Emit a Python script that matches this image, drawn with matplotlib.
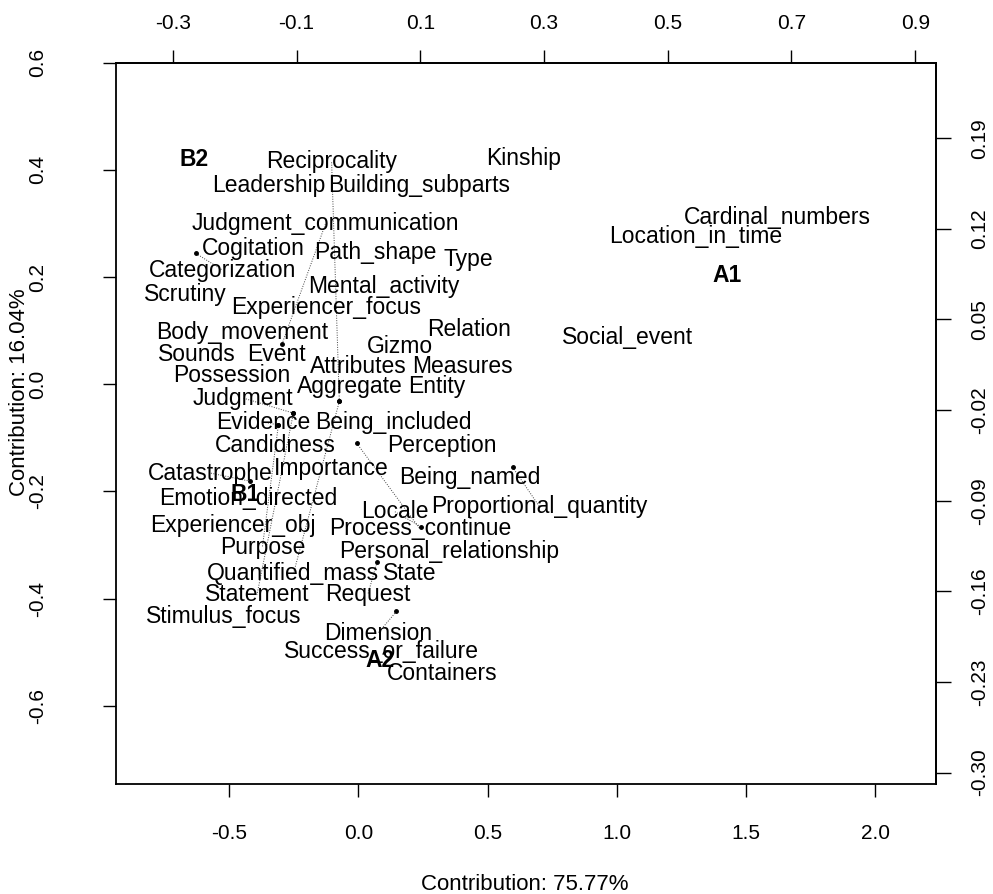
import numpy as np
import matplotlib
matplotlib.use("Agg")
import matplotlib.pyplot as plt

plt.rcParams['font.family'] = ['Liberation Sans', 'DejaVu Sans']
plt.rcParams['axes.unicode_minus'] = False

# label positions (dimension 1, dimension 2)
labels = ['Reciprocality', 'Leadership', 'Building_subparts', 'Kinship',
          'Judgment_communication', 'Cogitation', 'Path_shape', 'Type',
          'Categorization', 'Mental_activity', 'Scrutiny', 'Experiencer_focus',
          'Body_movement', 'Relation', 'Gizmo', 'Sounds', 'Event', 'Attributes',
          'Measures', 'Possession', 'Aggregate', 'Entity', 'Judgment', 'Evidence',
          'Being_included', 'Candidness', 'Perception', 'Catastrophe', 'Importance',
          'Being_named', 'Emotion_directed', 'Locale', 'Proportional_quantity',
          'Experiencer_obj', 'Process_continue', 'Purpose', 'Personal_relationship',
          'Quantified_mass', 'State', 'Statement', 'Request', 'Stimulus_focus',
          'Dimension', 'Success_or_failure', 'Containers', 'Cardinal_numbers',
          'Location_in_time', 'Social_event']
label_x = [-0.104, -0.349, 0.233, 0.641,
           -0.127, -0.407, 0.064, 0.427,
           -0.527, 0.098, -0.669, -0.126,
           -0.452, 0.428, 0.162, -0.624, -0.319, 0.000,
           0.402, -0.492, -0.032, 0.305, -0.446, -0.367,
           0.136, -0.322, 0.323, -0.572, -0.106,
           0.432, -0.427, 0.141, 0.700,
           -0.485, 0.238, -0.372, 0.350,
           -0.252, 0.199, -0.393, 0.036, -0.523,
           0.075, 0.090, 0.324, 1.623,
           1.305, 1.042]
label_y = [0.415, 0.370, 0.370, 0.421,
           0.300, 0.253, 0.245, 0.233,
           0.213, 0.183, 0.167, 0.143,
           0.097, 0.102, 0.071, 0.055, 0.055, 0.033,
           0.033, 0.016, -0.005, -0.005, -0.026, -0.071,
           -0.071, -0.115, -0.115, -0.166, -0.158,
           -0.175, -0.213, -0.238, -0.228,
           -0.264, -0.270, -0.304, -0.312,
           -0.354, -0.354, -0.393, -0.393, -0.433,
           -0.465, -0.499, -0.540, 0.311,
           0.275, 0.087]

# column points (bold)
groups = ['B2', 'A1', 'B1', 'A2']
group_x = [-0.637, 1.428, -0.437, 0.083]
group_y = [0.420, 0.202, -0.206, -0.515]

# labels that were moved away from their point: true point position
moved = ['Categorization', 'Judgment_communication', 'Proportional_quantity',
         'Process_continue', 'Locale', 'Request', 'Dimension', 'Reciprocality',
         'Evidence', 'Judgment', 'Catastrophe', 'Statement', 'Purpose',
         'Quantified_mass']
point_x = [-0.629, -0.296, 0.597, -0.007, 0.242, 0.072, 0.147, -0.074,
           -0.310, -0.252, -0.420, -0.252, -0.310, -0.074]
point_y = [0.244, 0.075, -0.155, -0.110, -0.266, -0.332, -0.424, -0.032,
           -0.076, -0.054, -0.181, -0.054, -0.076, -0.032]

bottom_ticks = [-0.5, 0.0, 0.5, 1.0, 1.5, 2.0]
left_ticks = [-0.6, -0.4, -0.2, 0.0, 0.2, 0.4, 0.6]
top_ticks = [-0.3, -0.1, 0.1, 0.3, 0.5, 0.7, 0.9]
right_ticks = [0.19, 0.12, 0.05, -0.02, -0.09, -0.16, -0.23, -0.30]
top_scale = 0.4175
right_scale = 0.414

fig = plt.figure(figsize=(9.93, 8.94), dpi=100)
ax = fig.add_axes([0.1165, 0.1231, 0.8258, 0.8068])
ax.set_xlim(-0.940, 2.235)
ax.set_ylim(-0.746, 0.600)

# leader lines and points
for name, px, py in zip(moved, point_x, point_y):
    i = labels.index(name)
    ax.plot([px, label_x[i]], [py, label_y[i]], color='#444444', lw=0.7,
            ls=(0, (1, 1.5)), zorder=1)
ax.plot(point_x, point_y, 'o', color='black', ms=2.5, zorder=2)

for name, x, y in zip(labels, label_x, label_y):
    ax.text(x, y, name, fontsize=16.5, ha='center', va='center', zorder=3)
for name, x, y in zip(groups, group_x, group_y):
    ax.text(x, y, name, fontsize=16.5, fontweight='bold', ha='center',
            va='center', zorder=4)

for s in ax.spines.values():
    s.set_linewidth(1.3)

ax.set_xticks(bottom_ticks)
ax.set_xticklabels(['%.1f' % t for t in bottom_ticks])
ax.set_yticks(left_ticks)
ax.set_yticklabels(['%.1f' % t for t in left_ticks], rotation=90, va='center')
ax.tick_params(axis='x', length=9.5, width=1, labelsize=15, pad=19)
ax.tick_params(axis='y', length=9.5, width=1, labelsize=15, pad=40)

top = ax.secondary_xaxis('top', functions=(lambda v: v * top_scale,
                                           lambda v: v / top_scale))
top.set_xticks(top_ticks)
top.set_xticklabels(['%.1f' % t for t in top_ticks])
top.tick_params(length=9.5, width=1, labelsize=15, pad=12)
top.spines['top'].set_linewidth(1.3)

right = ax.secondary_yaxis('right', functions=(lambda v: v * right_scale,
                                               lambda v: v / right_scale))
right.set_yticks(right_ticks)
right.set_yticklabels(['%.2f' % t for t in right_ticks], rotation=90,
                      va='center')
right.tick_params(length=11, width=1, labelsize=15, pad=14)
right.spines['right'].set_linewidth(1.3)

fig.text(525 / 993, 1 - 884 / 894, 'Contribution: 75.77%', fontsize=16,
         ha='center', va='center')
fig.text(20 / 993, 1 - 392 / 894, 'Contribution: 16.04%', fontsize=16,
         ha='center', va='center', rotation=90)

fig.savefig('out.png', dpi=100)
